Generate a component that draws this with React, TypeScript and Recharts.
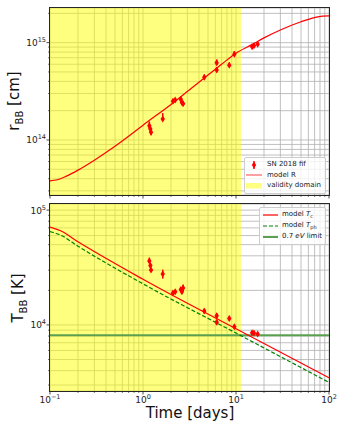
import React from "react"
import { ComposedChart, Line, Scatter, ErrorBar, XAxis, YAxis, CartesianGrid, ReferenceArea, ReferenceLine } from "recharts"

// observed blackbody fits, SN 2018fif
const obsTimes = [1.17, 1.2, 1.22, 1.63, 2.1, 2.22, 2.55, 2.62, 2.7, 4.56, 6.2, 6.2, 8.47, 9.6, 14.9, 15.6, 17.1]
const obsRadius = [1.4e14, 1.3e14, 1.2e14, 1.64e14, 2.5e14, 2.58e14, 2.62e14, 2.42e14, 2.35e14, 4.4e14, 6.22e14, 5.25e14, 5.86e14, 7.6e14, 9.1e14, 9.3e14, 9.6e14]
const radiusErrLow = [0.1e14, 0.08e14, 0.08e14, 0.05e14, 0.1e14, 0.1e14, 0.15e14, 0.1e14, 0.1e14, 0.2e14, 0.3e14, 0.25e14, 0.25e14, 0.3e14, 0.3e14, 0.3e14, 0.3e14]
const radiusErrHigh = [0.15e14, 0.1e14, 0.1e14, 0.25e14, 0.15e14, 0.1e14, 0.15e14, 0.15e14, 0.15e14, 0.3e14, 0.5e14, 0.3e14, 0.4e14, 0.6e14, 0.6e14, 0.6e14, 0.6e14]
const obsTemp = [36100, 33000, 30100, 27800, 19000, 19500, 20400, 19500, 21000, 13200, 12000, 10550, 11400, 9660, 8570, 8500, 8350]
const tempErrLow = [1000, 1500, 800, 2500, 800, 800, 1000, 800, 1500, 600, 700, 500, 600, 400, 300, 300, 300]
const tempErrHigh = [2500, 1500, 800, 2500, 800, 800, 1000, 800, 1500, 600, 700, 500, 600, 400, 300, 300, 300]

// model curves
const modelRTimes = [0.1, 0.12, 0.15, 0.2, 0.3, 0.5, 0.7, 1, 2, 3, 5, 7, 10, 15, 20, 30, 50, 70, 85, 100]
const modelR = [3.8e13, 3.9e13, 4.25e13, 4.9e13, 6.2e13, 8.6e13, 1.09e14, 1.42e14, 2.32e14, 3.15e14, 4.65e14, 6.0e14, 7.8e14, 9.6e14, 1.12e15, 1.35e15, 1.64e15, 1.81e15, 1.87e15, 1.88e15]
const modelTTimes = [0.1, 0.13, 0.2, 1, 10, 100]
const modelTc = [71000, 66000, 53000, 25000, 9250, 3470]
const modelTph = [65000, 60500, 48500, 22800, 8500, 3160]
const limitTemp = 8120
const validityEnd = 11.3

// ticks
const xTicks = [0.1, 0.2, 0.3, 0.4, 0.5, 0.6, 0.7, 0.8, 0.9, 1, 2, 3, 4, 5, 6, 7, 8, 9, 10, 20, 30, 40, 50, 60, 70, 80, 90, 100]
const rTicks = [3e13, 4e13, 5e13, 6e13, 7e13, 8e13, 9e13, 1e14, 2e14, 3e14, 4e14, 5e14, 6e14, 7e14, 8e14, 9e14, 1e15, 2e15]
const tTicks = [3000, 4000, 5000, 6000, 7000, 8000, 9000, 1e4, 2e4, 3e4, 4e4, 5e4, 6e4, 7e4, 8e4, 9e4, 1e5]

const rPoints = obsTimes.map((t, i) => ({ t, v: obsRadius[i], err: [radiusErrLow[i], radiusErrHigh[i]] }))
const tPoints = obsTimes.map((t, i) => ({ t, v: obsTemp[i], err: [tempErrLow[i], tempErrHigh[i]] }))
const rModel = modelRTimes.map((t, i) => ({ t, v: modelR[i] }))
const tcModel = modelTTimes.map((t, i) => ({ t, v: modelTc[i] }))
const tphModel = modelTTimes.map((t, i) => ({ t, v: modelTph[i] }))

const FONT = "DejaVu Sans, sans-serif"
const PLOT_LEFT = 50
const PLOT_BOTTOM = 195
const GRID = "#b0b0b0"

const isMajor = (v: number) => Math.abs(Math.log10(v) - Math.round(Math.log10(v))) < 1e-6
const expText = (v: number) => {
  const e = Math.round(Math.log10(v))
  return e < 0 ? `\u2212${-e}` : `${e}`
}

const XTick = (props: any) => {
  const { x, payload, showLabel } = props
  const major = isMajor(payload.value)
  return (
    <g>
      <line x1={x} x2={x} y1={PLOT_BOTTOM} y2={PLOT_BOTTOM + (major ? 3.5 : 2)} stroke="#222" strokeWidth={major ? 0.8 : 0.6} />
      {showLabel && major && (
        <text x={x} y={PLOT_BOTTOM + 12} textAnchor="middle" fontSize={9} fontFamily={FONT} fill="#222">
          10<tspan dy={-4} fontSize={6.5}>{expText(payload.value)}</tspan>
        </text>
      )}
    </g>
  )
}

const YTick = (props: any) => {
  const { y, payload } = props
  const major = isMajor(payload.value)
  return (
    <g>
      <line x1={PLOT_LEFT} x2={PLOT_LEFT - (major ? 3.5 : 2)} y1={y} y2={y} stroke="#222" strokeWidth={major ? 0.8 : 0.6} />
      {major && (
        <text x={PLOT_LEFT - 4} y={y + 3.5} textAnchor="end" fontSize={9} fontFamily={FONT} fill="#222">
          10<tspan dy={-4} fontSize={6.5}>{expText(payload.value)}</tspan>
        </text>
      )}
    </g>
  )
}

const Diamond = (props: any) => {
  const { cx, cy } = props
  return <polygon points={`${cx},${cy - 3.5} ${cx + 2.2},${cy} ${cx},${cy + 3.5} ${cx - 2.2},${cy}`} fill="#ff0000" />
}

const legendText: React.CSSProperties = { fontSize: 7, fontFamily: FONT, color: "#222", whiteSpace: "nowrap" }

export default function App() {
  return (
    <div style={{ position: "absolute", left: 0, top: 0, width: 344, height: 430, background: "#fff" }}>
      {/* top panel: radius */}
      <div style={{ position: "absolute", left: 0, top: 0 }}>
        <ComposedChart width={344} height={200} margin={{ top: 8, right: 15, bottom: 0, left: 0 }}>
          <CartesianGrid stroke={GRID} strokeWidth={0.8} />
          <ReferenceArea x1={0.1} x2={validityEnd} fill="#ffff00" fillOpacity={0.5} stroke="none" />
          <XAxis dataKey="t" type="number" scale="log" domain={[0.1, 100]} allowDataOverflow ticks={xTicks} interval={0} height={5} axisLine={false} tickLine={false} tick={(p: any) => <XTick {...p} />} />
          <YAxis dataKey="v" type="number" scale="log" domain={[2.72e13, 2.27e15]} allowDataOverflow ticks={rTicks} interval={0} width={50} axisLine={false} tickLine={false} tick={(p: any) => <YTick {...p} />} />
          <Line data={rModel} dataKey="v" type="monotone" stroke="#ff0000" strokeWidth={1.2} dot={false} isAnimationActive={false} />
          <Scatter data={rPoints} dataKey="v" shape={<Diamond />} isAnimationActive={false}>
            <ErrorBar dataKey="err" direction="y" width={0} stroke="#ff0000" strokeWidth={1.5} />
          </Scatter>
        </ComposedChart>
      </div>
      <div style={{ position: "absolute", left: 49, top: 7, width: 279, height: 187, border: "1px solid #262626", pointerEvents: "none" }} />

      {/* bottom panel: temperature */}
      <div style={{ position: "absolute", left: 0, top: 196 }}>
        <ComposedChart width={344} height={234} margin={{ top: 8, right: 15, bottom: 0, left: 0 }}>
          <CartesianGrid stroke={GRID} strokeWidth={0.8} />
          <ReferenceArea x1={0.1} x2={validityEnd} fill="#ffff00" fillOpacity={0.5} stroke="none" />
          <XAxis dataKey="t" type="number" scale="log" domain={[0.1, 100]} allowDataOverflow ticks={xTicks} interval={0} height={39} axisLine={false} tickLine={false} tick={(p: any) => <XTick {...p} showLabel />} />
          <YAxis dataKey="v" type="number" scale="log" domain={[2660, 113000]} allowDataOverflow ticks={tTicks} interval={0} width={50} axisLine={false} tickLine={false} tick={(p: any) => <YTick {...p} />} />
          <ReferenceLine y={limitTemp} stroke="#5aa050" strokeWidth={2} />
          <Line data={tphModel} dataKey="v" type="monotone" stroke="#008000" strokeWidth={1.2} strokeDasharray="4 2" dot={false} isAnimationActive={false} />
          <Line data={tcModel} dataKey="v" type="monotone" stroke="#ff0000" strokeWidth={1.2} dot={false} isAnimationActive={false} />
          <Scatter data={tPoints} dataKey="v" shape={<Diamond />} isAnimationActive={false}>
            <ErrorBar dataKey="err" direction="y" width={0} stroke="#ff0000" strokeWidth={1.5} />
          </Scatter>
        </ComposedChart>
      </div>
      <div style={{ position: "absolute", left: 49, top: 203, width: 279, height: 187, border: "1px solid #262626", pointerEvents: "none" }} />

      {/* axis titles */}
      <div style={{ position: "absolute", left: 15, top: 101, transform: "translate(-50%, -50%) rotate(-90deg)", fontSize: 15, fontFamily: FONT, whiteSpace: "nowrap", color: "#111" }}>
        r<sub style={{ fontSize: 10 }}>BB</sub> [cm]
      </div>
      <div style={{ position: "absolute", left: 19, top: 298, transform: "translate(-50%, -50%) rotate(-90deg)", fontSize: 15, fontFamily: FONT, whiteSpace: "nowrap", color: "#111" }}>
        T<sub style={{ fontSize: 10 }}>BB</sub> [K]
      </div>
      <div style={{ position: "absolute", left: 190, top: 413, transform: "translate(-50%, -50%)", fontSize: 15, fontFamily: FONT, whiteSpace: "nowrap", color: "#111" }}>
        Time [days]
      </div>

      {/* legend, top */}
      <div style={{ position: "absolute", left: 244, top: 157, width: 80, height: 35, border: "1px solid #ccc", borderRadius: 2, background: "rgba(255,255,255,0.8)" }}>
        <svg width={20} height={36} style={{ position: "absolute", left: 0, top: 0 }}>
          <line x1={9} x2={9} y1={3} y2={11} stroke="#ff0000" strokeWidth={1.5} />
          <polygon points="9,3.5 11.2,7 9,10.5 6.8,7" fill="#ff0000" />
          <line x1={1} x2={17} y1={17} y2={17} stroke="#ff8080" strokeWidth={1.5} />
          <rect x={1} y={25} width={16} height={5.5} fill="#ffff80" />
        </svg>
        <div style={{ ...legendText, position: "absolute", left: 22, top: 2 }}>SN 2018 fif</div>
        <div style={{ ...legendText, position: "absolute", left: 22, top: 12.5 }}>model R</div>
        <div style={{ ...legendText, position: "absolute", left: 22, top: 23 }}>validity domain</div>
      </div>

      {/* legend, bottom */}
      <div style={{ position: "absolute", left: 259, top: 207, width: 65, height: 36, border: "1px solid #ccc", borderRadius: 2, background: "rgba(255,255,255,0.8)" }}>
        <svg width={20} height={36} style={{ position: "absolute", left: 0, top: 0 }}>
          <line x1={3} x2={18} y1={7} y2={7} stroke="#ff0000" strokeWidth={1.2} />
          <line x1={3} x2={18} y1={18} y2={18} stroke="#008000" strokeWidth={1.2} strokeDasharray="4 2" />
          <line x1={3} x2={18} y1={29} y2={29} stroke="#5aa050" strokeWidth={2} />
        </svg>
        <div style={{ ...legendText, position: "absolute", left: 22, top: 2 }}>model <i>T</i><sub style={{ fontSize: 5 }}>c</sub></div>
        <div style={{ ...legendText, position: "absolute", left: 22, top: 13 }}>model <i>T</i><sub style={{ fontSize: 5 }}>ph</sub></div>
        <div style={{ ...legendText, position: "absolute", left: 22, top: 24 }}>0.7 <i>eV</i> limit</div>
      </div>
    </div>
  )
}
